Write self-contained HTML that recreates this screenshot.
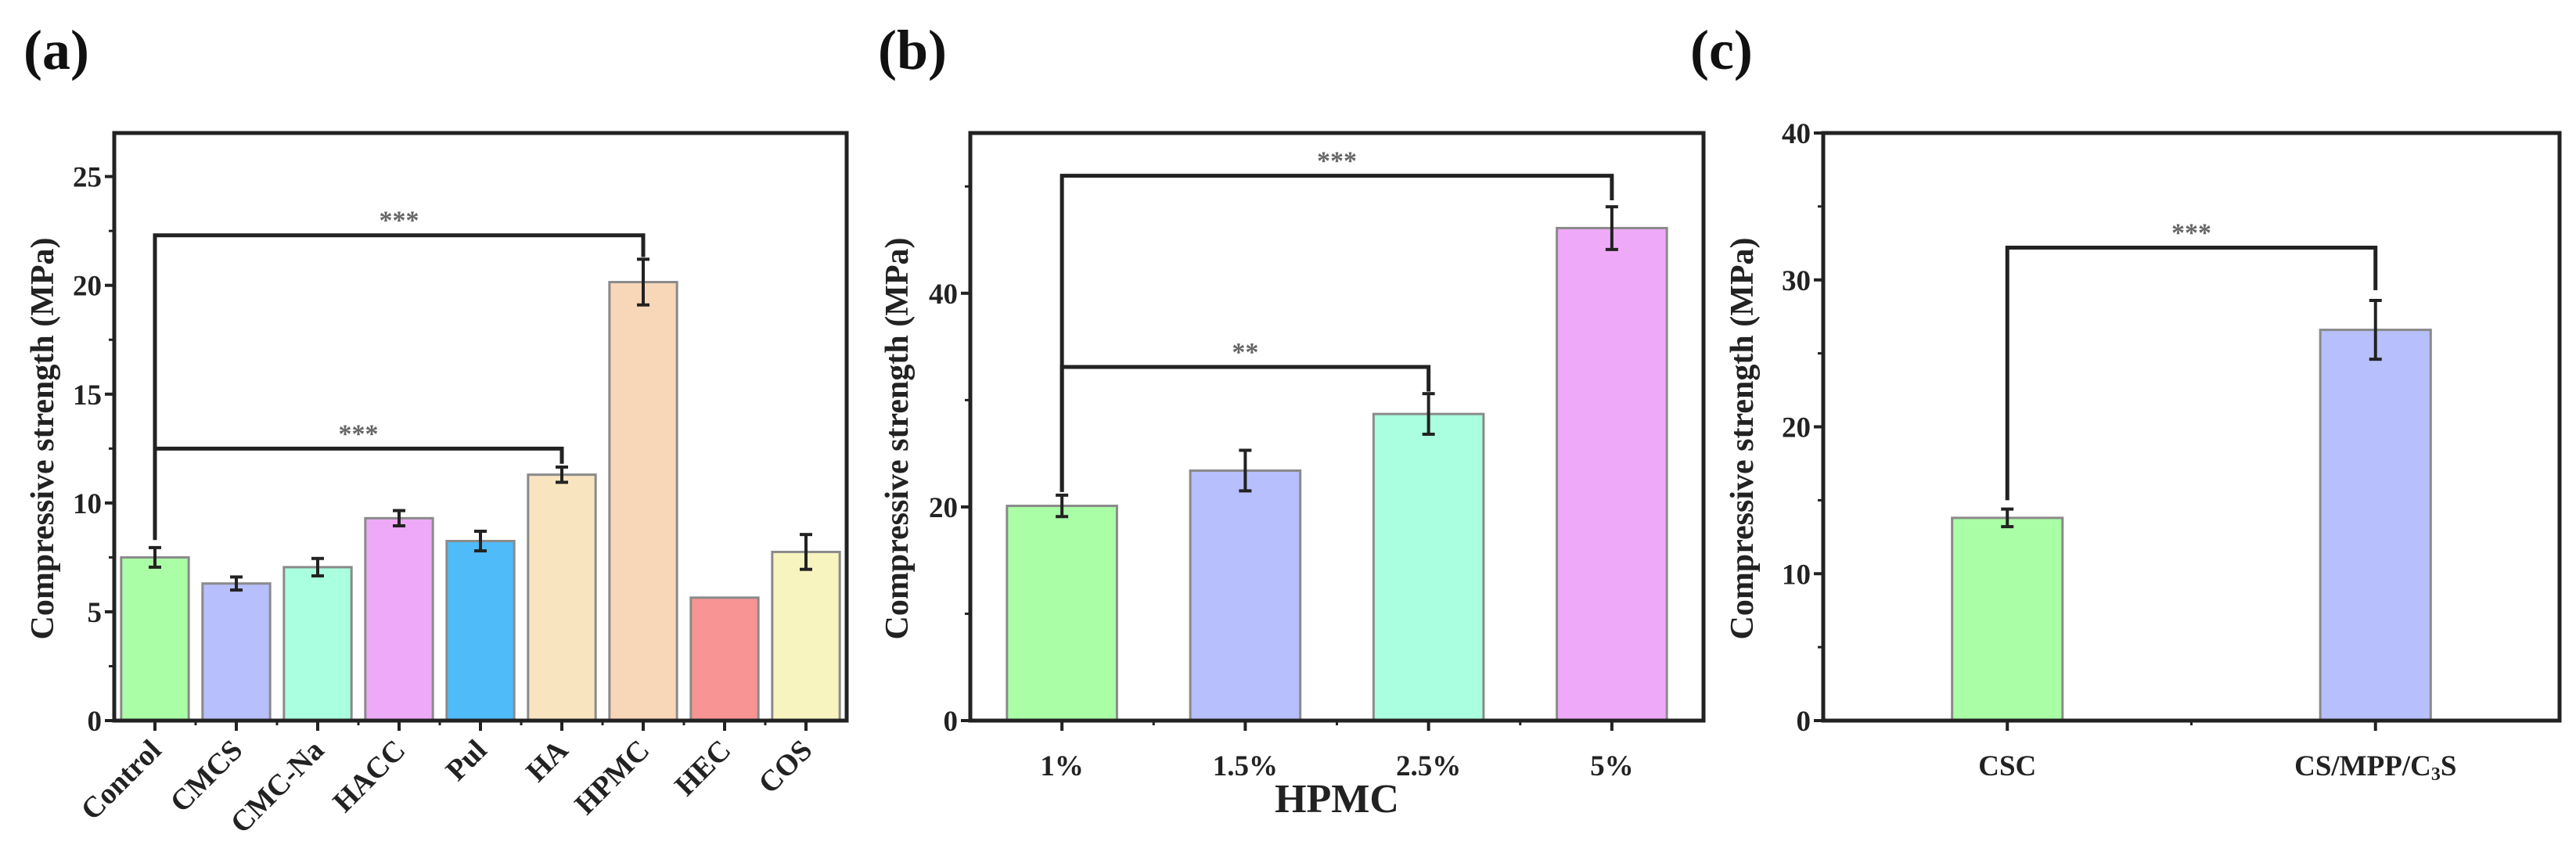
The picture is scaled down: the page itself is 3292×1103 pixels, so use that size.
<!DOCTYPE html>
<html><head><meta charset="utf-8">
<style>
html,body{margin:0;padding:0;background:#fff;}
svg{display:block;font-family:"Liberation Serif",serif;font-weight:bold;}
</style></head>
<body>
<svg id="fig" width="3292" height="1103" viewBox="0 0 3292 1103" xmlns="http://www.w3.org/2000/svg"></svg>
<script>
// Panel (a)
const catsA = ["Control","CMCS","CMC-Na","HACC","Pul","HA","HPMC","HEC","COS"];
const valsA = [7.5,6.3,7.05,9.3,8.25,11.3,20.15,5.65,7.75];
const errsA = [0.45,0.3,0.4,0.35,0.45,0.35,1.05,0,0.8];
const colsA = ["#aaffa6","#b7bffc","#aaffe0","#eeaaf8","#4fbbf8","#f8e5bf","#f8d6b8","#f89494","#f8f4c0"];
const ticksA = [0,5,10,15,20,25];
// Panel (b)
const catsB = ["1%","1.5%","2.5%","5%"];
const valsB = [20.1,23.4,28.7,46.1];
const errsB = [1.0,1.9,1.9,2.0];
const colsB = ["#aaffa6","#b7bffc","#aaffe0","#eeaaf8"];
const ticksB = [0,20,40];
// Panel (c)
const catsC = ["CSC","CS/MPP/C3S"];
const valsC = [13.8,26.6];
const errsC = [0.6,2.0];
const colsC = ["#aaffa6","#b7bffc"];
const ticksC = [0,10,20,30,40];

const NS="http://www.w3.org/2000/svg";
const svg=document.getElementById('fig');
function el(tag,attrs,parent,text){const e=document.createElementNS(NS,tag);for(const k in attrs)e.setAttribute(k,attrs[k]);if(text!==undefined)e.textContent=text;(parent||svg).appendChild(e);return e;}

function panel(cfg){
  const g=el('g',{});
  
  
  const {L,R,T,B,ymax,n,cats,vals,errs,cols,ticks,minor,bw}=cfg;
  const ys=v=>B-(v/ymax)*(B-T);
  const xs=i=>L+(i+0.5)/n*(R-L);
  const w=bw*(R-L)/n;
  vals.forEach((v,i)=>{
    const r=el('rect',{x:xs(i)-w/2,y:ys(v),width:w,height:B-ys(v),fill:cols[i],stroke:'#8a8a8a','stroke-width':3},g);
    
    
    const e=errs[i];
    if(e>0){
      const eb=el('g',{stroke:'#222','stroke-width':4},g);
      
      
      el('line',{x1:xs(i),x2:xs(i),y1:ys(v+e),y2:ys(v-e)},eb);
      el('line',{x1:xs(i)-8,x2:xs(i)+8,y1:ys(v+e),y2:ys(v+e)},eb);
      el('line',{x1:xs(i)-8,x2:xs(i)+8,y1:ys(v-e),y2:ys(v-e)},eb);
    }
  });
  cfg.brackets.forEach(bk=>{
    const bg=el('g',{},g);
    
    
    el('polyline',{points:`${xs(bk.a)},${ys(bk.ya)} ${xs(bk.a)},${ys(bk.y)} ${xs(bk.b)},${ys(bk.y)} ${xs(bk.b)},${ys(bk.yb)}`,fill:'none',stroke:'#222','stroke-width':5},bg);
    const t=el('text',{x:(xs(bk.a)+xs(bk.b))/2,y:ys(bk.y)-8,'text-anchor':'middle','font-size':34,fill:'#666'},bg,bk.s);
    
    
  });
  const fr=el('rect',{x:L,y:T,width:R-L,height:B-T,fill:'none',stroke:'#222','stroke-width':5},g);
  
  
  const ya=el('g',{},g);
  
  
  ticks.forEach(t=>{
    el('line',{x1:L-12,x2:L,y1:ys(t),y2:ys(t),stroke:'#222','stroke-width':4},ya);
    el('text',{x:L-16,y:ys(t)+13,'text-anchor':'end','font-size':37,fill:'#222'},ya,String(t));
  });
  minor.forEach(t=>el('line',{x1:L-7,x2:L,y1:ys(t),y2:ys(t),stroke:'#222','stroke-width':3},ya));
  const xa=el('g',{},g);
  
  
  cats.forEach((c,i)=>{
    el('line',{x1:xs(i),x2:xs(i),y1:B,y2:B+13,stroke:'#222','stroke-width':4},xa);
    if(i<n-1) el('line',{x1:xs(i+0.5),x2:xs(i+0.5),y1:B,y2:B+6,stroke:'#222','stroke-width':3},xa);
    let t;
    if(cfg.rot){
      t=el('text',{x:xs(i)+10,y:B+40,'text-anchor':'end','font-size':38,fill:'#222',transform:`rotate(-45 ${xs(i)+10} ${B+40})`},xa,c);
    }else if(c==='CS/MPP/C3S'){
      t=el('text',{x:xs(i),y:B+70,'text-anchor':'middle','font-size':37,fill:'#222'},xa);
      el('tspan',{},t,'CS/MPP/C');
      el('tspan',{'font-size':24,dy:6},t,'3');
      el('tspan',{dy:-6},t,'S');
    }else{
      t=el('text',{x:xs(i),y:B+70,'text-anchor':'middle','font-size':37,fill:'#222'},xa,c);
    }
    
    
  });
  const yt=el('text',{x:0,y:0,'text-anchor':'middle','font-size':42,fill:'#222',transform:`translate(${cfg.ytx},${(T+B)/2+15}) rotate(-90)`},g,'Compressive strength (MPa)');
  
  
  if(cfg.xtitle){
    const xt=el('text',{x:(L+R)/2,y:1038,'text-anchor':'middle','font-size':52,fill:'#222'},g,cfg.xtitle);
    
    
  }
  const pl=el('text',{x:cfg.lx,y:88,'font-size':72,fill:'#111'},g,cfg.label);
  
  
}

panel({name:'panel-a',L:146,R:1082,T:170,B:921,ymax:27,n:9,cats:catsA,vals:valsA,errs:errsA,cols:colsA,ticks:ticksA,
  minor:[2.5,7.5,12.5,17.5,22.5],bw:0.83,rot:true,ytx:68,lx:30,label:'(a)',
  brackets:[{a:0,b:6,y:22.3,ya:8.3,yb:21.3,s:'***'},{a:0,b:5,y:12.5,ya:8.3,yb:11.8,s:'***'}]});
panel({name:'panel-b',L:1240,R:2177,T:170,B:921,ymax:55,n:4,cats:catsB,vals:valsB,errs:errsB,cols:colsB,ticks:ticksB,
  minor:[10,30,50],bw:0.6,rot:false,ytx:1160,lx:1122,label:'(b)',xtitle:'HPMC',
  brackets:[{a:0,b:3,y:51,ya:21.4,yb:48.7,s:'***'},{a:0,b:2,y:33.1,ya:21.4,yb:30.8,s:'**'}]});
panel({name:'panel-c',L:2330,R:3271,T:170,B:921,ymax:40,n:2,cats:catsC,vals:valsC,errs:errsC,cols:colsC,ticks:ticksC,
  minor:[5,15,25,35],bw:0.3,rot:false,ytx:2240,lx:2160,label:'(c)',
  brackets:[{a:0,b:1,y:32.2,ya:15.0,yb:29.3,s:'***'}]});
</script>
</body></html>
